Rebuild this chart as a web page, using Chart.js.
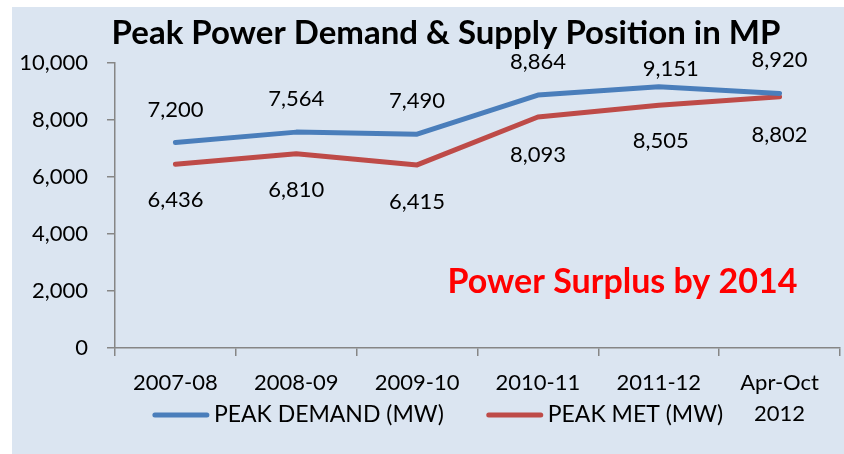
<!DOCTYPE html>
<html>
<head>
<meta charset="utf-8">
<script src="https://cdn.jsdelivr.net/npm/chart.js@4.4.0/dist/chart.umd.min.js"></script>
<style>
  html, body { margin: 0; padding: 0; background: #fff; }
  #wrap { position: absolute; left: 12px; top: 7px; width: 832px; height: 447px; background: #dbe5f1; }
</style>
</head>
<body>
<div id="wrap"><canvas id="chart"></canvas></div>
<script>
// data
var years = ['2007-08', '2008-09', '2009-10', '2010-11', '2011-12', ['Apr-Oct', '2012']];
var peakDemand = [7200, 7564, 7490, 8864, 9151, 8920];
var peakMet = [6436, 6810, 6415, 8093, 8505, 8802];
var yTicks = [0, 2000, 4000, 6000, 8000, 10000];

var FONT = 'Lato, "Open Sans", sans-serif';
var AXIS = '#868686';

// value labels over / under each point, the note and the legend row
var extras = {
  id: 'extras',
  afterLayout: function(chart) {
    // let the y labels use the space left of the axis box
    chart.scales.y.left = 0;
  },
  afterDatasetsDraw: function(chart, args, opts) {
    var ctx = chart.ctx;
    ctx.save();
    ctx.font = '22px ' + FONT;
    ctx.fillStyle = '#000';
    ctx.textAlign = 'center';
    ctx.textBaseline = 'middle';
    chart.data.datasets.forEach(function(ds, d) {
      var meta = chart.getDatasetMeta(d);
      var shift = opts.shifts[d];
      meta.data.forEach(function(pt, i) {
        ctx.fillText(ds.data[i].toLocaleString('en-US'), pt.x + shift[i][0], pt.y + shift[i][1]);
      });
    });

    // note text
    var x = chart.scales.x.getPixelForValue(3.7);
    var y = chart.scales.y.getPixelForValue(2300);
    ctx.font = 'bold 34px ' + FONT;
    ctx.fillStyle = '#ff0000';
    ctx.fillText('Power Surplus by 2014', x, y);

    // legend, sharing the row with the second line of the last category
    ctx.font = '23px ' + FONT;
    ctx.textAlign = 'left';
    var sets = chart.data.datasets;
    var total = 0;
    sets.forEach(function(ds, d) {
      total += 56 + 5 + ctx.measureText(ds.label).width + (d ? 0 : 43);
    });
    var lx = 426 - total / 2;
    var ly = 408;
    ctx.lineCap = 'round';
    ctx.lineWidth = 5;
    sets.forEach(function(ds) {
      ctx.strokeStyle = ds.borderColor;
      ctx.beginPath();
      ctx.moveTo(lx + 2, ly);
      ctx.lineTo(lx + 54, ly);
      ctx.stroke();
      lx += 61;
      ctx.fillStyle = '#000';
      ctx.fillText(ds.label, lx, ly);
      lx += ctx.measureText(ds.label).width + 43;
    });
    ctx.restore();
  }
};

var ctx = document.getElementById('chart');
var chart = new Chart(ctx, {
  type: 'line',
  data: {
    labels: years,
    datasets: [
      {
        label: 'PEAK DEMAND (MW)',
        data: peakDemand,
        borderColor: '#4a7ebb',
        backgroundColor: '#4a7ebb',
        borderWidth: 5,
        borderCapStyle: 'round',
        borderJoinStyle: 'round',
        pointRadius: 0,
        tension: 0
      },
      {
        label: 'PEAK MET (MW)',
        data: peakMet,
        borderColor: '#be4b48',
        backgroundColor: '#be4b48',
        borderWidth: 5,
        borderCapStyle: 'round',
        borderJoinStyle: 'round',
        pointRadius: 0,
        tension: 0
      }
    ]
  },
  options: {
    responsive: true,
    maintainAspectRatio: false,
    animation: false,
    layout: { padding: { left: 40, right: 4, top: 0, bottom: 0 } },
    plugins: {
      title: {
        display: true,
        text: 'Peak Power Demand & Supply Position in MP',
        color: '#000',
        font: { family: FONT, size: 33, weight: 'bold', lineHeight: 1.2 },
        padding: { top: 7, bottom: 9 }
      },
      legend: { display: false },
      tooltip: { enabled: false },
      extras: {
        shifts: [
          [[0, -33], [0, -33], [0, -33], [0, -33], [12, -18], [0, -34]],
          [[0, 36], [0, 36], [0, 37], [0, 38], [2, 36], [0, 38]]
        ]
      }
    },
    scales: {
      x: {
        offset: true,
        grid: { offset: true, drawOnChartArea: false, drawTicks: true, tickLength: 8, color: AXIS, lineWidth: 1.5 },
        border: { color: AXIS, width: 1.5 },
        ticks: { color: '#000', font: { family: FONT, size: 22, lineHeight: 1.4 }, padding: 12, maxRotation: 0, autoSkip: false },
        afterFit: function(scale) { scale.height = 106; }
      },
      y: {
        min: 0,
        max: 10000,
        afterBuildTicks: function(scale) {
          scale.ticks = yTicks.map(function(v) { return { value: v }; });
        },
        grid: { drawOnChartArea: false, drawTicks: true, tickLength: 8, color: AXIS, lineWidth: 1.5 },
        border: { color: AXIS, width: 1.5 },
        ticks: { color: '#000', font: { family: FONT, size: 22 }, padding: 19 },
        afterFit: function(scale) { scale.width = 63; }
      }
    }
  },
  plugins: [extras]
});
</script>
</body>
</html>
